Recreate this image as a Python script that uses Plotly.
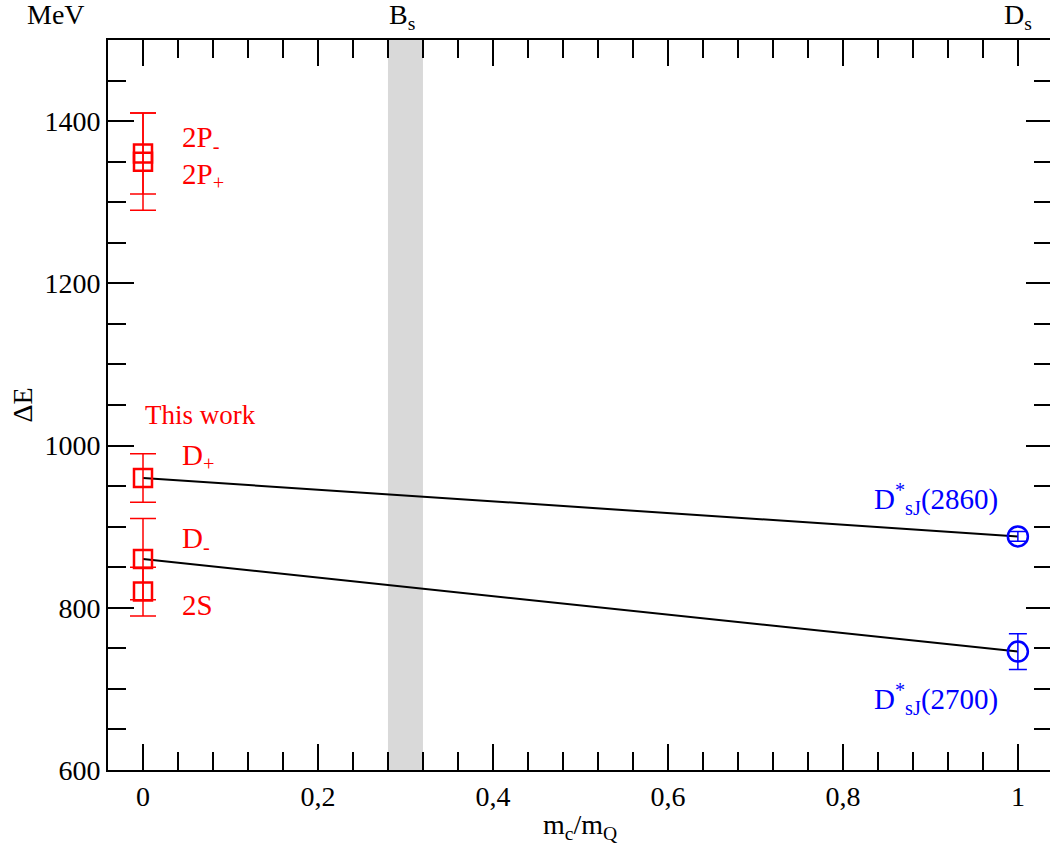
import plotly.graph_objects as go

# ---- data ----
hq_labels = ["2P-", "2P+", "D+", "D-", "2S"]
hq_x = [0, 0, 0, 0, 0]
hq_E = [1360, 1350, 960, 860, 820]
hq_err = [50, 60, 30, 50, 30]

exp_labels = ["D*sJ(2860)", "D*sJ(2700)"]
exp_x = [1, 1]
exp_E = [888, 746]
exp_err = [6, 22]

line_upper_x = [0, 1]
line_upper_E = [960, 888]
line_lower_x = [0, 1]
line_lower_E = [860, 746]

band_x = [0.28, 0.32]

x_tickvals = [0, 0.2, 0.4, 0.6, 0.8, 1]
x_ticktext = ["0", "0,2", "0,4", "0,6", "0,8", "1"]
y_tickvals = [600, 800, 1000, 1200, 1400]

FONT = "Liberation Serif"
RED = "#ff0000"
BLUE = "#0000ff"
FS = 28

fig = go.Figure()

fig.add_shape(type="rect", xref="x", yref="paper", x0=band_x[0], x1=band_x[1],
              y0=0, y1=1, fillcolor="#d9d9d9", line=dict(width=0), layer="below")

fig.add_trace(go.Scatter(x=line_upper_x, y=line_upper_E, mode="lines",
                         line=dict(color="black", width=2), showlegend=False))
fig.add_trace(go.Scatter(x=line_lower_x, y=line_lower_E, mode="lines",
                         line=dict(color="black", width=2), showlegend=False))

fig.add_trace(go.Scatter(
    x=hq_x, y=hq_E, mode="markers",
    marker=dict(symbol="square-open", size=18, color=RED, line=dict(width=2.5, color=RED)),
    error_y=dict(type="data", array=hq_err, color=RED, thickness=1.5, width=13),
    showlegend=False))

fig.add_trace(go.Scatter(
    x=exp_x, y=exp_E, mode="markers",
    marker=dict(symbol="circle-open", size=20, color=BLUE, line=dict(width=2.5, color=BLUE)),
    error_y=dict(type="data", array=exp_err, color=BLUE, thickness=1.5, width=9),
    showlegend=False))

def ann(x, y, text, color, xanchor="left", xref="x", yref="y", size=FS, yanchor="middle",
        textangle=0, yshift=0):
    fig.add_annotation(x=x, y=y, xref=xref, yref=yref, text=text, showarrow=False,
                       xanchor=xanchor, yanchor=yanchor, textangle=textangle, yshift=yshift,
                       font=dict(family=FONT, size=size, color=color))

ann(0.042, 1378, "2P<sub>-</sub>", RED, size=29)
ann(0.042, 1332, "2P<sub>+</sub>", RED, size=29)
ann(0.0, 1038, "This work", RED, size=27)
ann(0.042, 986, "D<sub>+</sub>", RED, size=29)
ann(0.042, 884, "D<sub>-</sub>", RED, size=29)
ann(0.042, 804, "2S", RED, size=29)
ann(0.98, 934, "D<sup>*</sup><sub>sJ</sub>(2860)", BLUE, xanchor="right", size=29)
ann(0.98, 688, "D<sup>*</sup><sub>sJ</sub>(2700)", BLUE, xanchor="right", size=29)

ann(0.279, 1.0, "B<sub>s</sub>", "black", yref="paper", yanchor="bottom", yshift=4)
ann(1.0, 1.0, "D<sub>s</sub>", "black", xanchor="center", yref="paper", yanchor="bottom", yshift=4)
ann(-0.088, 1.0, "MeV", "black", xref="paper", yref="paper", yanchor="bottom", yshift=8)
ann(-0.0915, 0.5, "ΔE", "black", xanchor="center", xref="paper", yref="paper", textangle=-90)
ann(0.5, -0.05, "m<sub>c</sub>/m<sub>Q</sub>", "black", xanchor="center", xref="paper",
    yref="paper", yanchor="top")

axis_common = dict(showline=True, linecolor="black", linewidth=2, mirror="allticks",
                   ticks="inside", tickcolor="black", tickwidth=1.5, ticklen=26,
                   showgrid=False, zeroline=False,
                   tickfont=dict(family=FONT, size=FS, color="black"))

fig.update_xaxes(range=[-0.04, 1.039], tickvals=x_tickvals, ticktext=x_ticktext,
                 minor=dict(dtick=0.04, tick0=0, ticks="inside", ticklen=18, tickwidth=1.5,
                            tickcolor="black", showgrid=False),
                 **axis_common)
fig.update_yaxes(range=[600, 1500], tickvals=y_tickvals,
                 minor=dict(dtick=50, tick0=600, ticks="inside", ticklen=18, tickwidth=1.5,
                            tickcolor="black", showgrid=False),
                 **axis_common)

fig.update_layout(width=1056, height=855, plot_bgcolor="white", paper_bgcolor="white",
                  margin=dict(l=108, r=2, t=40, b=85), showlegend=False,
                  font=dict(family=FONT, size=FS, color="black"))

fig.write_html("out.html", config={"displayModeBar": False},
               post_script="document.body.style.margin='0';document.body.style.overflow='hidden';")
